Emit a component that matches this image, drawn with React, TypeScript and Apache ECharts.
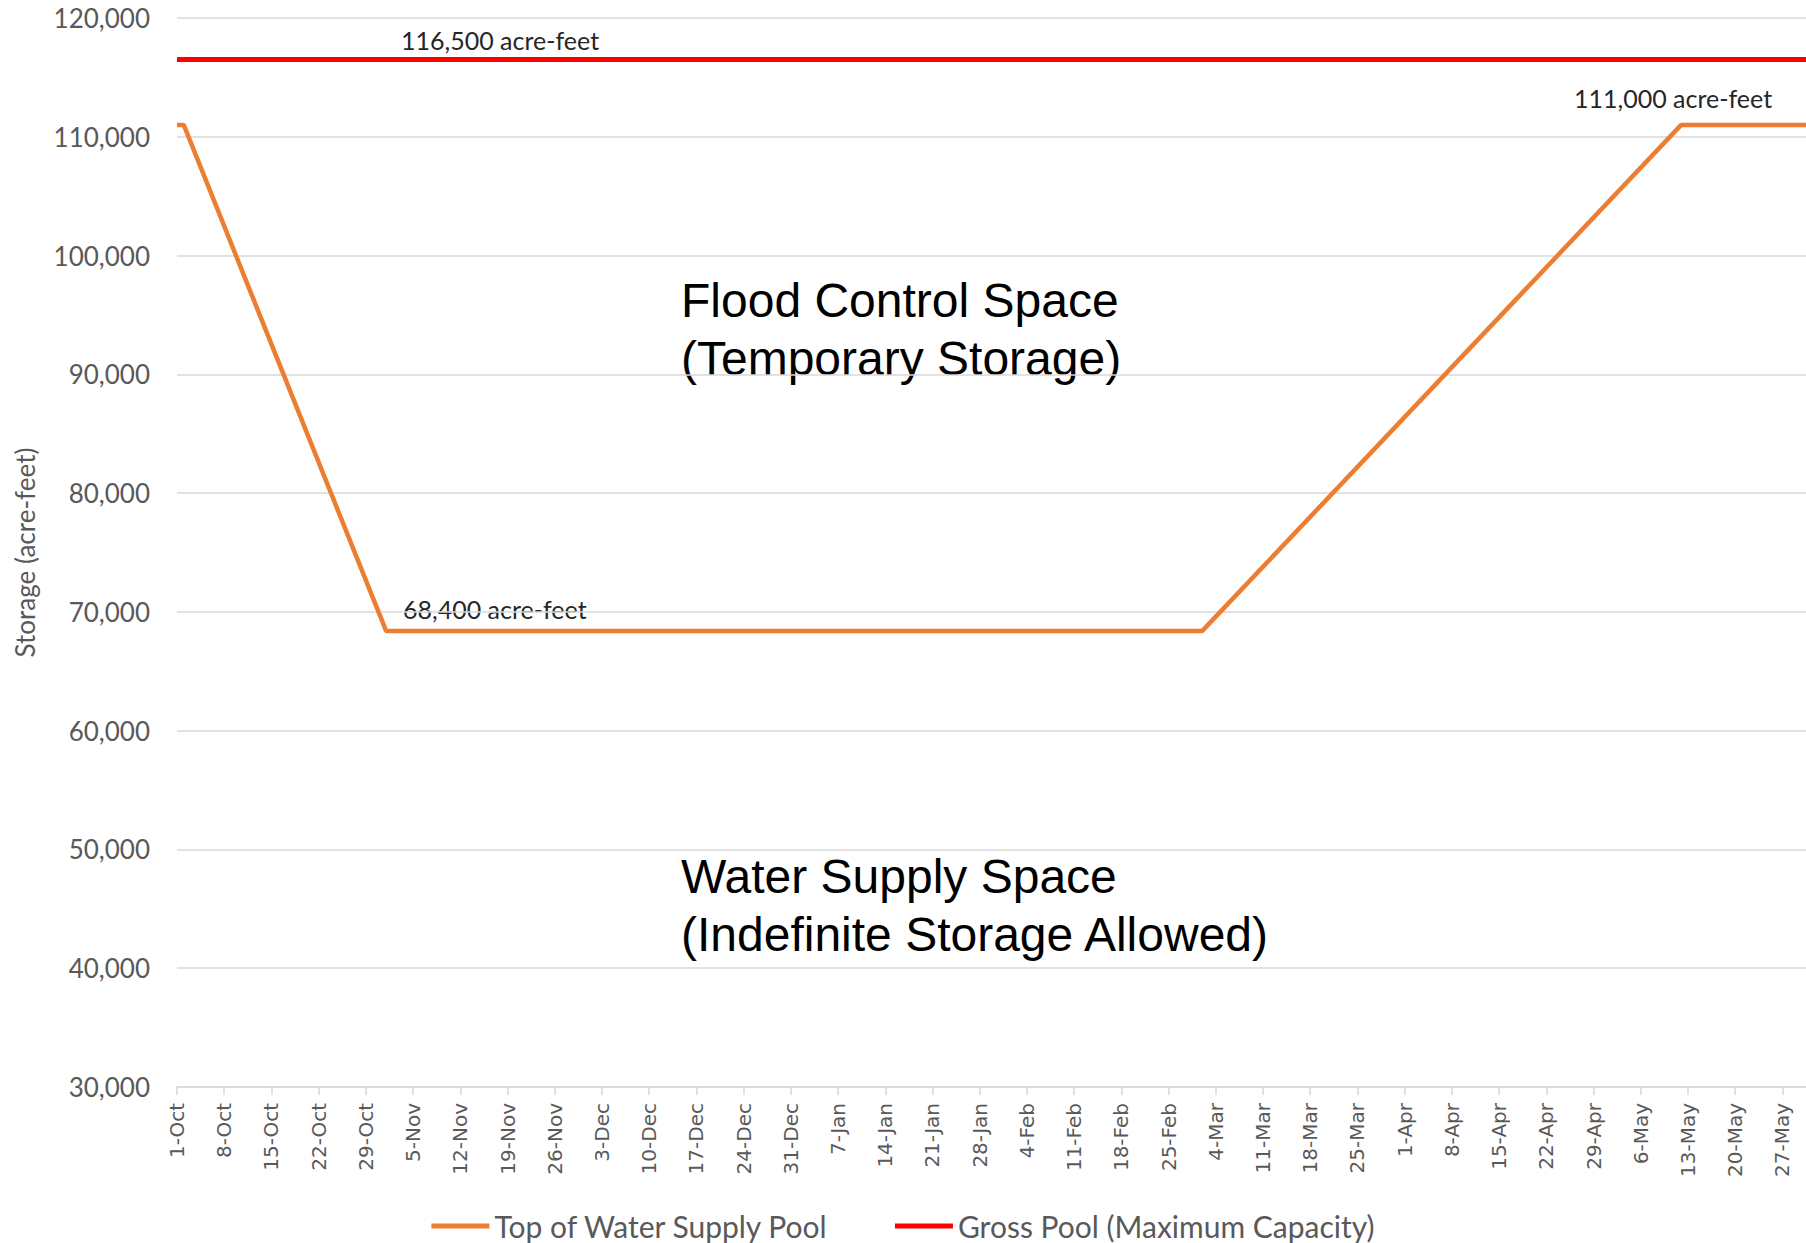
import React, { useEffect, useRef } from "react";
import * as echarts from "echarts";

// Tick labels (every 7 days starting 1-Oct)
const tickLabels = [
  "1-Oct", "8-Oct", "15-Oct", "22-Oct", "29-Oct", "5-Nov", "12-Nov", "19-Nov", "26-Nov",
  "3-Dec", "10-Dec", "17-Dec", "24-Dec", "31-Dec", "7-Jan", "14-Jan", "21-Jan", "28-Jan",
  "4-Feb", "11-Feb", "18-Feb", "25-Feb", "4-Mar", "11-Mar", "18-Mar", "25-Mar", "1-Apr",
  "8-Apr", "15-Apr", "22-Apr", "29-Apr", "6-May", "13-May", "20-May", "27-May",
];

// Day index since 1-Oct, storage (acre-feet)
const waterSupplyDays = [0, 1, 31, 152, 223, 241.5];
const waterSupplyValues = [111000, 111000, 68400, 68400, 111000, 111000];

const grossPoolDays = [0, 241.5];
const grossPoolValues = [116500, 116500];

const seriesNames = ["Top of Water Supply Pool", "Gross Pool (Maximum Capacity)"];

const fmt = (v: number) => v.toLocaleString("en-US");

export default function App() {
  const ref = useRef<HTMLDivElement>(null);
  useEffect(() => {
    if (!ref.current) return;
    const chart = echarts.init(ref.current, undefined, { renderer: "svg" });
    const grey = "#595959";
    const small = { fontFamily: "Lato", fontSize: 25, fill: "#262626" };
    const big = { fontFamily: "Liberation Sans", fontSize: 48, fill: "#000", lineHeight: 58 };
    chart.setOption({
      animation: false,
      backgroundColor: "#fff",
      grid: { left: 177, right: 0, top: 18, bottom: 156 },
      xAxis: {
        type: "value",
        min: 0,
        max: 241.5,
        interval: 7,
        splitLine: { show: false },
        axisLine: { show: true, lineStyle: { color: "#d9d9d9", width: 1.5 } },
        axisTick: { show: true, length: 8, lineStyle: { color: "#d9d9d9", width: 1.5 } },
        axisLabel: {
          rotate: 90,
          margin: 16,
          color: grey,
          fontFamily: "DejaVu Sans",
          fontSize: 20,
          showMaxLabel: false,
          formatter: (v: number) => (v % 7 === 0 ? tickLabels[v / 7] ?? "" : ""),
        },
      },
      yAxis: {
        type: "value",
        min: 30000,
        max: 120000,
        interval: 10000,
        name: "Storage (acre-feet)",
        nameLocation: "middle",
        nameGap: 139,
        nameTextStyle: { color: grey, fontFamily: "Lato", fontSize: 26 },
        axisLine: { show: false },
        axisTick: { show: false },
        splitLine: { lineStyle: { color: "#d9d9d9", width: 1.5 } },
        axisLabel: {
          color: grey,
          fontFamily: "Lato",
          fontSize: 26,
          margin: 27,
          formatter: (v: number) => fmt(v),
        },
      },
      legend: {
        bottom: -3,
        left: "center",
        icon: "rect",
        itemWidth: 58,
        itemHeight: 5,
        itemGap: 66,
        textStyle: { color: grey, fontFamily: "Lato", fontSize: 30 },
        data: seriesNames,
      },
      series: [
        {
          name: seriesNames[0],
          type: "line",
          showSymbol: false,
          symbol: "none",
          color: "#ED7D31",
          lineStyle: { width: 4.5, color: "#ED7D31" },
          data: waterSupplyDays.map((d, i) => [d, waterSupplyValues[i]]),
          z: 3,
        },
        {
          name: seriesNames[1],
          type: "line",
          showSymbol: false,
          symbol: "none",
          color: "#FF0000",
          lineStyle: { width: 5, color: "#FF0000" },
          data: grossPoolDays.map((d, i) => [d, grossPoolValues[i]]),
          z: 2,
        },
      ],
      graphic: [
        { type: "text", left: 401, top: 27, style: { ...small, text: "116,500 acre-feet" } },
        { type: "text", left: 403, top: 596, style: { ...small, text: "68,400 acre-feet" } },
        { type: "text", left: 1574, top: 85, style: { ...small, text: "111,000 acre-feet" } },
        { type: "text", left: 681, top: 271, style: { ...big, text: "Flood Control Space\n(Temporary Storage)" } },
        { type: "text", left: 681, top: 847, style: { ...big, text: "Water Supply Space\n(Indefinite Storage Allowed)" } },
      ],
    });
    return () => chart.dispose();
  }, []);
  return (
    <div
      ref={ref}
      style={{ position: "fixed", left: 0, top: 0, width: 1806, height: 1243 }}
    />
  );
}
